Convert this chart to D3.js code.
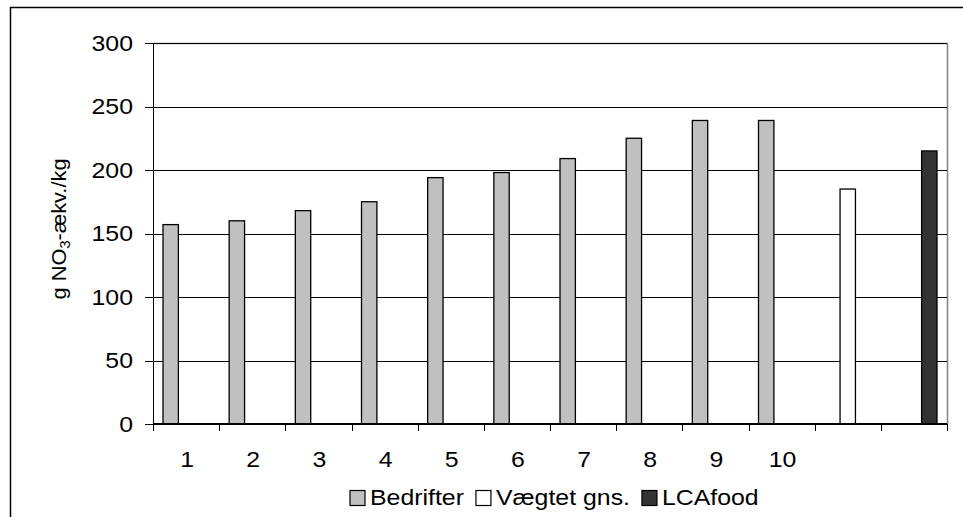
<!DOCTYPE html>
<html>
<head>
<meta charset="utf-8">
<script src="https://cdn.jsdelivr.net/npm/d3@7"></script>
<style>
  body { margin: 0; background: #fff; }
  svg { display: block; font-family: Arial, "Liberation Sans", sans-serif; }
  .axis text { font-size: 22px; fill: #000; }
  .axis path, .axis line { stroke: #000; shape-rendering: crispEdges; }
</style>
</head>
<body>
<div id="chart"></div>
<script>
// slots along the x axis, the last two have no tick label
var slots = ["1", "2", "3", "4", "5", "6", "7", "8", "9", "10", "gns", "lca"];
var tickLabels = ["1", "2", "3", "4", "5", "6", "7", "8", "9", "10", "", ""];
var seriesNames = ["Bedrifter", "Vægtet gns.", "LCAfood"];
var seriesColors = ["#c0c0c0", "#ffffff", "#333333"];

// g NO3-ækv./kg
var bedrifterValues = [157, 160, 168, 175, 194, 198, 209, 225, 239, 239];
var vaegtetValues = [185];
var lcafoodValues = [215];

var yTicks = [0, 50, 100, 150, 200, 250, 300];

var width = 963, height = 517;
var plot = {left: 153, right: 947, top: 43, bottom: 424};
var stretch = 1.13; // text in the original is a bit wide

var bars = [];
bedrifterValues.forEach(function(v, i) { bars.push({slot: slots[i], series: seriesNames[0], value: v}); });
vaegtetValues.forEach(function(v) { bars.push({slot: "gns", series: seriesNames[1], value: v}); });
lcafoodValues.forEach(function(v) { bars.push({slot: "lca", series: seriesNames[2], value: v}); });

var x = d3.scaleBand()
    .domain(slots)
    .range([plot.left, plot.right])
    .padding(0);

var xInner = d3.scaleBand()
    .domain(seriesNames)
    .range([0, x.bandwidth()])
    .paddingInner(0)
    .paddingOuter(0.65);

var y = d3.scaleLinear()
    .domain([0, 300])
    .range([plot.bottom, plot.top]);

var color = d3.scaleOrdinal().domain(seriesNames).range(seriesColors);

var svg = d3.select("#chart").append("svg")
    .attr("width", width)
    .attr("height", height);

// outer chart border (runs off the right and bottom)
svg.append("rect")
    .attr("x", 10.5).attr("y", 7.5)
    .attr("width", 1000).attr("height", 600)
    .attr("fill", "none").attr("stroke", "#000").attr("stroke-width", 1.5);

// plot area frame, grey on top and right
svg.append("path")
    .attr("d", "M" + plot.left + "," + (plot.top + 0.5) + "H" + (plot.right + 0.5) + "V" + plot.bottom)
    .attr("fill", "none").attr("stroke", "#808080").attr("stroke-width", 1.5);

// gridlines
svg.append("g").selectAll("line")
    .data(yTicks.filter(function(d) { return d > 0; }))
    .enter().append("line")
    .attr("x1", plot.left).attr("x2", plot.right)
    .attr("y1", function(d) { return Math.round(y(d)) + 0.5; })
    .attr("y2", function(d) { return Math.round(y(d)) + 0.5; })
    .attr("stroke", "#000").attr("stroke-width", 1.2);

// bars
svg.append("g").selectAll("rect")
    .data(bars)
    .enter().append("rect")
    .attr("x", function(d) { return x(d.slot) + xInner(d.series); })
    .attr("y", function(d) { return y(d.value); })
    .attr("width", xInner.bandwidth())
    .attr("height", function(d) { return y(0) - y(d.value); })
    .attr("fill", function(d) { return color(d.series); })
    .attr("stroke", "#000").attr("stroke-width", 1.3);

// y axis
var yAxis = svg.append("g")
    .attr("class", "axis")
    .attr("transform", "translate(" + plot.left + ",0)")
    .call(d3.axisLeft(y).tickValues(yTicks).tickSize(8).tickPadding(12).tickSizeOuter(0));
yAxis.select(".domain").attr("stroke-width", 1.5);
yAxis.selectAll(".tick text")
    .attr("x", 0)
    .attr("transform", "translate(-20,0) scale(" + stretch + ",1)");

// x axis: ticks on slot boundaries, labels in slot centres
var xAxis = svg.append("g")
    .attr("class", "axis")
    .attr("transform", "translate(0," + plot.bottom + ")");
xAxis.append("line")
    .attr("x1", plot.left).attr("x2", plot.right)
    .attr("stroke", "#000").attr("stroke-width", 1.5);
xAxis.selectAll(".tick")
    .data(slots.concat(["end"]))
    .enter().append("line")
    .attr("class", "tick")
    .attr("x1", function(d, i) { return Math.round(plot.left + i * x.step()) + 0.5; })
    .attr("x2", function(d, i) { return Math.round(plot.left + i * x.step()) + 0.5; })
    .attr("y1", 0).attr("y2", 7)
    .attr("stroke", "#000").attr("stroke-width", 1.2);
xAxis.selectAll(".lbl")
    .data(slots)
    .enter().append("text")
    .attr("class", "lbl")
    .attr("text-anchor", "middle")
    .attr("transform", function(d) {
        return "translate(" + (x(d) + x.bandwidth() / 2 + 1) + ",43) scale(" + stretch + ",1)";
    })
    .text(function(d, i) { return tickLabels[i]; });

// y axis title
var yTitle = svg.append("text")
    .attr("transform", "translate(66,229) rotate(-90) scale(1.04,1)")
    .attr("text-anchor", "middle")
    .attr("font-size", "21px");
yTitle.append("tspan").text("g NO");
yTitle.append("tspan").attr("font-size", "14px").attr("dy", 4).text("3");
yTitle.append("tspan").attr("dy", -4).text("-ækv./kg");

// legend
var legend = svg.append("g").attr("class", "legend");
var legendItems = legend.selectAll("g")
    .data(seriesNames)
    .enter().append("g");
legendItems.append("rect")
    .attr("width", 15).attr("height", 15)
    .attr("y", 490.5)
    .attr("fill", function(d) { return color(d); })
    .attr("stroke", "#000").attr("stroke-width", 1.2);
legendItems.append("text")
    .attr("transform", "translate(20,505) scale(" + stretch + ",1)")
    .attr("font-size", "22px")
    .text(function(d) { return d; });

var lx = 350;
legendItems.each(function() {
    var g = d3.select(this);
    g.attr("transform", "translate(" + lx + ",0)");
    lx += 20 + g.select("text").node().getComputedTextLength() * stretch + 12;
});
</script>
</body>
</html>
